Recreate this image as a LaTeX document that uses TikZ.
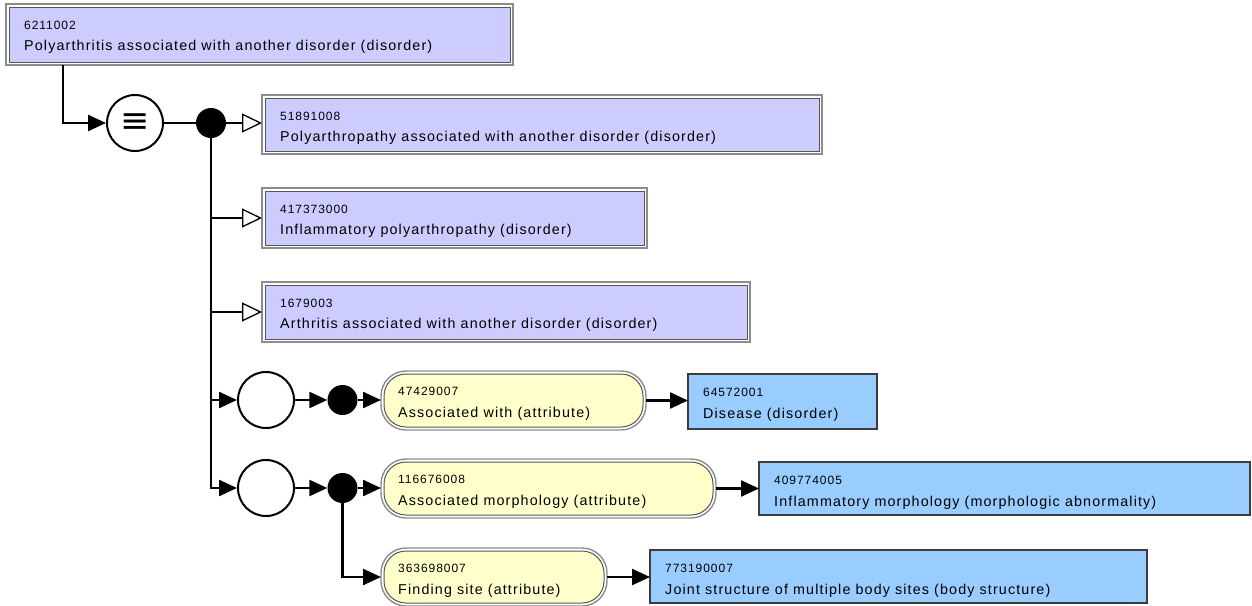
\documentclass[tikz,border=0pt]{standalone}
\usepackage{fontspec}
\setmainfont{Liberation Sans}
\newfontfamily\idfont[LetterSpace=8]{Liberation Sans}
\newfontfamily\lblfont[LetterSpace=8]{Liberation Sans}
\newfontfamily\symfont{DejaVu Sans}
\usetikzlibrary{arrows.meta}

\definecolor{defFill}{RGB}{204,204,255}
\definecolor{attrFill}{RGB}{255,255,204}
\definecolor{primFill}{RGB}{153,204,255}
\definecolor{frameOuter}{RGB}{140,140,140}
\definecolor{frameInner}{RGB}{85,85,85}
\definecolor{frameDark}{RGB}{60,60,60}

\tikzset{
  idtxt/.style={anchor=base west, inner sep=0pt, font=\idfont\fontsize{12}{14}\selectfont},
  lbltxt/.style={anchor=base west, inner sep=0pt, font=\lblfont\fontsize{14.3}{16}\selectfont},
  outerframe/.style={draw=frameOuter, fill=white, line width=1.4pt, inner sep=0pt, outer sep=0pt, anchor=north west},
  defbox/.style={draw=frameInner, fill=defFill, line width=1pt},
  attrouter/.style={outerframe, rounded corners=25pt},
  attrbox/.style={draw=frameInner, fill=attrFill, line width=1pt, rounded corners=22pt},
  primbox/.style={draw=frameDark, fill=primFill, line width=1.8pt, inner sep=0pt, outer sep=0pt, anchor=north west},
  link/.style={line width=2.4pt},
  isa/.style={link, -{Triangle[open, length=20pt, width=19pt, fill=white, line width=1.3pt]}},
  rel/.style={link, -{Triangle[length=18pt, width=16pt]}},
  hub/.style={circle, draw, line width=2pt, minimum size=56pt, inner sep=0pt, fill=white},
  joint/.style={circle, fill=black, minimum size=30pt, inner sep=0pt},
}

% defined concept: double frame, lavender
\newcommand\defconcept[7]{%
  \node[outerframe, minimum width={#4-#2}, minimum height={#5-#3}] (#1) at (#2,#3) {};
  \draw[defbox] ([shift={(3pt,-3pt)}]#1.north west) rectangle ([shift={(-3pt,3pt)}]#1.south east);
  \node[idtxt] (#1-id) at ([shift={(18pt,-25pt)}]#1.north west) {#6};
  \node[lbltxt] (#1-label) at ([shift={(18pt,-46pt)}]#1.north west) {#7};
}
% attribute: rounded double frame, yellow
\newcommand\attrconcept[7]{%
  \node[attrouter, minimum width={#4-#2}, minimum height={#5-#3}] (#1) at (#2,#3) {};
  \draw[attrbox] ([shift={(3pt,-3pt)}]#1.north west) rectangle ([shift={(-3pt,3pt)}]#1.south east);
  \node[idtxt] (#1-id) at ([shift={(17pt,-24pt)}]#1.north west) {#6};
  \node[lbltxt] (#1-label) at ([shift={(17pt,-46pt)}]#1.north west) {#7};
}
% primitive concept: single frame, blue
\newcommand\primconcept[7]{%
  \node[primbox, minimum width={#4-#2}, minimum height={#5-#3}] (#1) at (#2,#3) {};
  \node[idtxt] (#1-id) at ([shift={(15pt,-22.5pt)}]#1.north west) {#6};
  \node[lbltxt] (#1-label) at ([shift={(15pt,-44pt)}]#1.north west) {#7};
}

\begin{document}
\begin{tikzpicture}[x=1pt, y=-1pt]
  \fill[white] (0,0) rectangle (1252,605);
  \useasboundingbox (0,0) rectangle (1252,605);

  % concepts
  \defconcept{top}{6}{4}{513}{65}{6211002}{Polyarthritis associated with another disorder (disorder)}
  \defconcept{b1}{262}{95}{822}{154}{51891008}{Polyarthropathy associated with another disorder (disorder)}
  \defconcept{b2}{262}{188}{647}{248}{417373000}{Inflammatory polyarthropathy (disorder)}
  \defconcept{b3}{262}{282}{750}{342}{1679003}{Arthritis associated with another disorder (disorder)}

  \attrconcept{y1}{381}{371}{646}{430}{47429007}{Associated with (attribute)}
  \attrconcept{y2}{381}{459}{716}{518}{116676008}{Associated morphology (attribute)}
  \attrconcept{y3}{381}{548}{607}{606}{363698007}{Finding site (attribute)}

  \primconcept{dis}{688}{374}{877}{429}{64572001}{Disease (disorder)}
  \primconcept{inf}{759}{462}{1250}{515}{409774005}{Inflammatory morphology (morphologic abnormality)}
  \primconcept{jnt}{650}{550}{1147}{603}{773190007}{Joint structure of multiple body sites (body structure)}

  % definition operator, groups and conjunction points
  \node[hub, font=\symfont\fontsize{35}{35}\selectfont] (eq) at (135,123) {≡};
  \node[joint] (dot0) at (211,123) {};
  \node[hub] (c1) at (266,400) {};
  \node[joint] (dot1) at (342.5,400) {};
  \node[hub] (c2) at (266,488) {};
  \node[joint] (dot2) at (342.5,488) {};
  \coordinate (split) at (175,123);

  % connectors
  \draw[rel] ([xshift=57pt]top.south west) |- (eq);
  \draw[line width=1.2pt] (eq) -- (split);
  \draw[link] (split) -- (dot0);
  \draw[isa] (dot0) -- (dot0 -| b1.west);
  \draw[isa] (dot0) |- (b2);
  \draw[isa] (dot0) |- (b3);
  \draw[rel] (dot0) |- (c1);
  \draw[rel] (dot0) |- (c2);

  \draw[rel] (c1) -- (dot1);
  \draw[rel] (dot1) -- (dot1 -| y1.west);
  \draw[rel] (y1.east) -- (y1.east -| dis.west);

  \draw[rel] (c2) -- (dot2);
  \draw[rel] (dot2) -- (dot2 -| y2.west);
  \draw[rel] (y2.east) -- (y2.east -| inf.west);
  \draw[rel] (dot2) |- (y3);
  \draw[rel] (y3.east) -- (y3.east -| jnt.west);
\end{tikzpicture}
\end{document}
